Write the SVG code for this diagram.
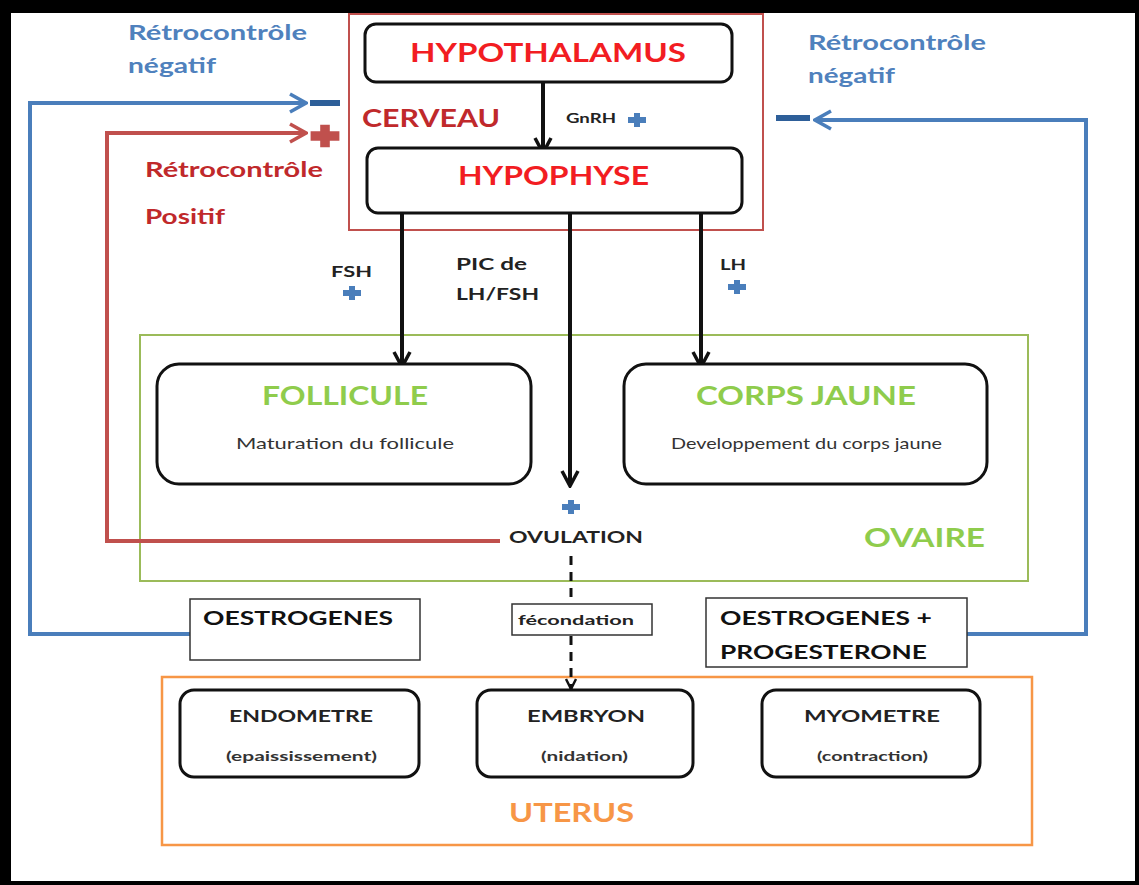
<svg xmlns="http://www.w3.org/2000/svg" width="1139" height="885" viewBox="0 0 1139 885">
<defs>
<style>
text{font-family:Lato,"Open Sans","Liberation Sans",sans-serif;font-weight:bold;}
.node{fill:#fff;stroke:#111;stroke-width:3;}
.blk{fill:none;stroke:#111;stroke-width:4;}
.blue{fill:none;stroke:#4a7ebb;stroke-width:4;}
.red{fill:none;stroke:#c0504d;stroke-width:4;}
.bt{fill:#4f81bd;}
.rt{fill:#c0292b;}
.hr{fill:#f21d22;font-size:26px;}
.gr{fill:#8fcc4c;font-size:26px;}
.dk{fill:#222;}
.sub{fill:#333;font-weight:normal;font-size:15px;}
.plus{fill:#4a7ebb;}
</style>
<marker id="ab" markerUnits="userSpaceOnUse" viewBox="0 0 20 20" refX="18" refY="10" markerWidth="20" markerHeight="20" orient="auto">
<path d="M3 2 L18 10 L3 18" fill="none" stroke="#111" stroke-width="3.5" stroke-linejoin="miter"/>
</marker>
<marker id="abs" markerUnits="userSpaceOnUse" viewBox="0 0 14 14" refX="12" refY="7" markerWidth="14" markerHeight="14" orient="auto">
<path d="M2 2 L12 7 L2 12" fill="none" stroke="#111" stroke-width="2.5"/>
</marker>
<marker id="abl" markerUnits="userSpaceOnUse" viewBox="0 0 24 24" refX="22" refY="12" markerWidth="24" markerHeight="24" orient="auto">
<path d="M6 3 L22 12 L6 21" fill="none" stroke="#4a7ebb" stroke-width="3.5"/>
</marker>
<marker id="ar" markerUnits="userSpaceOnUse" viewBox="0 0 24 24" refX="22" refY="12" markerWidth="24" markerHeight="24" orient="auto">
<path d="M6 3 L22 12 L6 21" fill="none" stroke="#c0504d" stroke-width="3.5"/>
</marker>
<path id="pl" d="M-3 -7 h6 v4 h6 v6 h-6 v4 h-6 v-4 h-6 v-6 h6 z"/>
</defs>
<rect x="0" y="0" width="1139" height="885" fill="#fff"/>
<!-- frame -->
<rect x="0" y="0" width="1139" height="13" fill="#000"/>
<rect x="0" y="0" width="11" height="885" fill="#000"/>
<rect x="0" y="881" width="1139" height="4" fill="#000"/>
<rect x="1135" y="0" width="4" height="885" fill="#000"/>

<!-- containers -->
<g id="cerveau">
<rect x="349" y="14" width="414" height="216" fill="none" stroke="#c0504d" stroke-width="2"/>
<text x="362" y="127" class="rt" font-size="24" textLength="138" lengthAdjust="spacingAndGlyphs">CERVEAU</text>
</g>
<g id="ovaire">
<rect x="140" y="335" width="888" height="246" fill="none" stroke="#9bbb59" stroke-width="2"/>
<text x="864" y="547" class="gr" textLength="121" lengthAdjust="spacingAndGlyphs">OVAIRE</text>
</g>
<g id="uterus">
<rect x="162" y="677" width="870" height="168" fill="none" stroke="#f79646" stroke-width="2.5"/>
<text x="509" y="822" fill="#f79646" font-size="26" textLength="125" lengthAdjust="spacingAndGlyphs">UTERUS</text>
</g>

<!-- connectors -->
<g id="connectors">
<line x1="543" y1="82" x2="543" y2="153" class="blk" marker-end="url(#ab)"/>
<line x1="402" y1="213" x2="402" y2="367" class="blk" marker-end="url(#ab)"/>
<line x1="570" y1="208" x2="570" y2="486" class="blk" marker-end="url(#ab)"/>
<line x1="701" y1="213" x2="701" y2="367" class="blk" marker-end="url(#ab)"/>
<line x1="571" y1="556" x2="571" y2="689" fill="none" stroke="#111" stroke-width="3" stroke-dasharray="9,7" marker-end="url(#abs)"/>
<polyline points="190,634 30,634 30,103 306,103" class="blue" marker-end="url(#abl)"/>
<polyline points="967,634 1086,634 1086,120 815,120" class="blue" marker-end="url(#abl)"/>
<polyline points="500,541 107,541 107,133 306,133" class="red" marker-end="url(#ar)"/>
<rect x="310" y="100" width="30" height="6" fill="#2e5f99"/>
<rect x="776" y="115" width="34" height="6" fill="#2e5f99"/>
<use href="#pl" x="325" y="136" fill="#c0504d" transform="translate(325 136) scale(1.6) translate(-325 -136)"/>
<use href="#pl" x="637" y="120" class="plus"/>
<use href="#pl" x="352" y="293" class="plus"/>
<use href="#pl" x="737" y="287" class="plus"/>
<use href="#pl" x="571" y="507" class="plus"/>
<text x="566" y="123" class="dk" font-size="14" textLength="50" lengthAdjust="spacingAndGlyphs">GnRH</text>
<text x="331" y="277" class="dk" font-size="16" textLength="41" lengthAdjust="spacingAndGlyphs">FSH</text>
<text x="456" y="270" class="dk" font-size="17" textLength="71" lengthAdjust="spacingAndGlyphs">PIC de</text>
<text x="456" y="300" class="dk" font-size="17" textLength="83" lengthAdjust="spacingAndGlyphs">LH/FSH</text>
<text x="720" y="270" class="dk" font-size="16" textLength="26" lengthAdjust="spacingAndGlyphs">LH</text>
<text x="509" y="543" class="dk" font-size="17" textLength="134" lengthAdjust="spacingAndGlyphs">OVULATION</text>
</g>

<!-- feedback labels -->
<g id="retro-neg-left">
<text x="128" y="40" class="bt" font-size="21" textLength="179" lengthAdjust="spacingAndGlyphs">Rétrocontrôle</text>
<text x="128" y="73" class="bt" font-size="21" textLength="88" lengthAdjust="spacingAndGlyphs">négatif</text>
</g>
<g id="retro-neg-right">
<text x="808" y="50" class="bt" font-size="21" textLength="178" lengthAdjust="spacingAndGlyphs">Rétrocontrôle</text>
<text x="808" y="83" class="bt" font-size="21" textLength="87" lengthAdjust="spacingAndGlyphs">négatif</text>
</g>
<g id="retro-pos">
<text x="145" y="177" class="rt" font-size="20" textLength="178" lengthAdjust="spacingAndGlyphs">Rétrocontrôle</text>
<text x="145" y="224" class="rt" font-size="20" textLength="80" lengthAdjust="spacingAndGlyphs">Positif</text>
</g>

<!-- nodes -->
<g id="hypothalamus">
<rect x="365" y="24" width="367" height="58" rx="11" class="node"/>
<text x="410" y="62" class="hr" textLength="276" lengthAdjust="spacingAndGlyphs">HYPOTHALAMUS</text>
</g>
<g id="hypophyse">
<rect x="367" y="148" width="375" height="65" rx="11" class="node"/>
<text x="458" y="185" class="hr" textLength="191" lengthAdjust="spacingAndGlyphs">HYPOPHYSE</text>
</g>
<g id="follicule">
<rect x="157" y="364" width="374" height="120" rx="22" class="node"/>
<text x="262" y="405" class="gr" textLength="166" lengthAdjust="spacingAndGlyphs">FOLLICULE</text>
<text x="236" y="449" class="sub" textLength="218" lengthAdjust="spacingAndGlyphs">Maturation du follicule</text>
</g>
<g id="corps-jaune">
<rect x="624" y="364" width="363" height="120" rx="22" class="node"/>
<text x="696" y="405" class="gr" textLength="220" lengthAdjust="spacingAndGlyphs">CORPS JAUNE</text>
<text x="671" y="449" class="sub" textLength="271" lengthAdjust="spacingAndGlyphs">Developpement du corps jaune</text>
</g>
<g id="fecondation">
<rect x="512" y="604" width="140" height="31" fill="#fff" stroke="#333" stroke-width="1.5"/>
<text x="518" y="625" class="dk" font-size="14" textLength="116" lengthAdjust="spacingAndGlyphs">fécondation</text>
</g>
<g id="oestrogenes">
<rect x="190" y="599" width="230" height="61" fill="#fff" stroke="#333" stroke-width="1.5"/>
<text x="203" y="625" fill="#111" font-size="19" textLength="190" lengthAdjust="spacingAndGlyphs">OESTROGENES</text>
</g>
<g id="oestro-proge">
<rect x="706" y="598" width="261" height="69" fill="#fff" stroke="#333" stroke-width="1.5"/>
<text x="720" y="625" fill="#111" font-size="19" textLength="212" lengthAdjust="spacingAndGlyphs">OESTROGENES +</text>
<text x="720" y="659" fill="#111" font-size="19" textLength="207" lengthAdjust="spacingAndGlyphs">PROGESTERONE</text>
</g>
<g id="endometre">
<rect x="180" y="690" width="239" height="87" rx="14" class="node"/>
<text x="229" y="722" fill="#222" font-size="17" textLength="144" lengthAdjust="spacingAndGlyphs">ENDOMETRE</text>
<text x="226" y="761" fill="#333" font-size="14" textLength="151" lengthAdjust="spacingAndGlyphs">(epaississement)</text>
</g>
<g id="embryon">
<rect x="477" y="690" width="216" height="87" rx="14" class="node"/>
<text x="527" y="722" fill="#222" font-size="17" textLength="118" lengthAdjust="spacingAndGlyphs">EMBRYON</text>
<text x="541" y="761" fill="#333" font-size="14" textLength="87" lengthAdjust="spacingAndGlyphs">(nidation)</text>
</g>
<g id="myometre">
<rect x="762" y="690" width="218" height="87" rx="14" class="node"/>
<text x="804" y="722" fill="#222" font-size="17" textLength="136" lengthAdjust="spacingAndGlyphs">MYOMETRE</text>
<text x="817" y="761" fill="#333" font-size="14" textLength="111" lengthAdjust="spacingAndGlyphs">(contraction)</text>
</g>
</svg>
